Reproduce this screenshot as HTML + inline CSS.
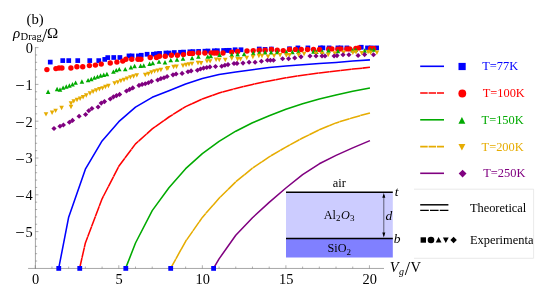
<!DOCTYPE html><html><head><meta charset="utf-8"><title>fig b</title><style>html,body{margin:0;padding:0;background:#fff}svg{display:block;will-change:transform;opacity:0.999}text{font-family:"Liberation Serif",serif;fill:#000}</style></head><body>
<svg width="545" height="296" viewBox="0 0 545 296">
<rect width="545" height="296" fill="#fff"/>
<path d="M35.42 47.3V268.7M28.1 268.45H384" stroke="#6e6e6e" stroke-width="0.62" fill="none"/>
<path d="M35.25 47.60h3.2M35.25 54.96h1.9M35.25 62.32h1.9M35.25 69.68h1.9M35.25 77.04h1.9M35.25 84.40h3.2M35.25 91.76h1.9M35.25 99.12h1.9M35.25 106.48h1.9M35.25 113.84h1.9M35.25 121.20h3.2M35.25 128.56h1.9M35.25 135.92h1.9M35.25 143.28h1.9M35.25 150.64h1.9M35.25 158.00h3.2M35.25 165.36h1.9M35.25 172.72h1.9M35.25 180.08h1.9M35.25 187.44h1.9M35.25 194.80h3.2M35.25 202.16h1.9M35.25 209.52h1.9M35.25 216.88h1.9M35.25 224.24h1.9M35.25 231.60h3.2M35.25 238.96h1.9M35.25 246.32h1.9M35.25 253.68h1.9M35.25 261.04h1.9M35.25 268.45v-3.2M51.96 268.45v-1.9M68.67 268.45v-1.9M85.38 268.45v-1.9M102.09 268.45v-1.9M118.80 268.45v-3.2M135.51 268.45v-1.9M152.22 268.45v-1.9M168.93 268.45v-1.9M185.64 268.45v-1.9M202.35 268.45v-3.2M219.06 268.45v-1.9M235.77 268.45v-1.9M252.48 268.45v-1.9M269.19 268.45v-1.9M285.90 268.45v-3.2M302.61 268.45v-1.9M319.32 268.45v-1.9M336.03 268.45v-1.9M352.74 268.45v-1.9M369.45 268.45v-3.2" stroke="#6e6e6e" stroke-width="0.55" fill="none"/>
<text x="35.55" y="283.8" font-size="14.4" text-anchor="middle">0</text>
<text x="119.10" y="283.8" font-size="14.4" text-anchor="middle">5</text>
<text x="202.65" y="283.8" font-size="14.4" text-anchor="middle">10</text>
<text x="286.20" y="283.8" font-size="14.4" text-anchor="middle">15</text>
<text x="369.75" y="283.8" font-size="14.4" text-anchor="middle">20</text>
<text x="33" y="52.90" font-size="14.4" text-anchor="end">0</text>
<text x="32.7" y="89.70" font-size="14.4" text-anchor="end">1</text>
<text x="24.6" y="91.25" font-size="16.6" text-anchor="end">−</text>
<text x="32.7" y="126.50" font-size="14.4" text-anchor="end">2</text>
<text x="24.6" y="128.05" font-size="16.6" text-anchor="end">−</text>
<text x="32.7" y="163.30" font-size="14.4" text-anchor="end">3</text>
<text x="24.6" y="164.85" font-size="16.6" text-anchor="end">−</text>
<text x="32.7" y="200.10" font-size="14.4" text-anchor="end">4</text>
<text x="24.6" y="201.65" font-size="16.6" text-anchor="end">−</text>
<text x="32.7" y="236.90" font-size="14.4" text-anchor="end">5</text>
<text x="24.6" y="238.45" font-size="16.6" text-anchor="end">−</text>
<path d="M58.70 268.40L68.67 217.20L85.38 169.20L102.09 140.90L118.80 121.70L135.51 107.20L152.22 97.30L168.93 90.70L185.64 84.00L202.35 78.60L219.06 74.60L235.77 72.10L252.48 69.80L269.19 67.50L285.90 65.90L302.61 64.70L319.32 63.60L336.03 62.40L352.74 61.10L369.95 59.86" stroke="#0000ff" stroke-width="1.55" fill="none" stroke-linejoin="round" stroke-linecap="butt"/>
<path d="M79.60 268.40L85.38 242.90L102.09 198.80L118.80 166.30L135.51 143.90L152.22 128.90L168.93 117.00L185.64 106.60L202.35 99.00L219.06 93.00L235.77 88.40L252.48 84.40L269.19 80.90L285.90 77.80L302.61 75.20L319.32 73.00L336.03 70.90L352.74 69.10L369.95 67.35" stroke="#ff0000" stroke-width="1.55" fill="none" stroke-linejoin="round" stroke-linecap="butt" stroke-dasharray="10.7 0.22"/>
<path d="M125.60 268.40L135.51 243.00L152.22 210.60L168.93 187.70L185.64 168.70L202.35 153.60L219.06 141.30L235.77 131.20L252.48 122.80L269.19 115.80L285.90 109.30L302.61 103.80L319.32 99.10L336.03 94.90L352.74 91.20L369.95 88.11" stroke="#00aa00" stroke-width="1.55" fill="none" stroke-linejoin="round" stroke-linecap="butt"/>
<path d="M170.60 268.40L185.64 241.30L202.35 217.40L219.06 198.30L235.77 181.80L252.48 168.20L269.19 156.80L285.90 147.10L302.61 138.00L319.32 129.80L336.03 122.90L352.74 117.70L369.95 112.96" stroke="#e6ac00" stroke-width="1.55" fill="none" stroke-linejoin="round" stroke-linecap="butt" stroke-dasharray="10.7 0.22"/>
<path d="M213.50 268.40L219.06 258.90L235.77 235.20L252.48 217.70L269.19 202.40L285.90 188.00L302.61 174.70L319.32 163.80L336.03 155.40L352.74 147.90L369.95 140.59" stroke="#800080" stroke-width="1.55" fill="none" stroke-linejoin="round" stroke-linecap="butt"/>
<g><rect x="47.90" y="59.75" width="4.7" height="4.7" fill="#0000ff"/><rect x="60.40" y="58.25" width="4.7" height="4.7" fill="#0000ff"/><rect x="66.40" y="58.25" width="4.7" height="4.7" fill="#0000ff"/><rect x="75.40" y="58.25" width="4.7" height="4.7" fill="#0000ff"/><rect x="87.40" y="58.25" width="4.7" height="4.7" fill="#0000ff"/><rect x="96.40" y="58.25" width="4.7" height="4.7" fill="#0000ff"/><rect x="102.40" y="57.05" width="4.7" height="4.7" fill="#0000ff"/><rect x="105.40" y="55.25" width="4.7" height="4.7" fill="#0000ff"/><rect x="111.40" y="55.15" width="4.7" height="4.7" fill="#0000ff"/><rect x="117.55" y="55.15" width="4.7" height="4.7" fill="#0000ff"/><rect x="126.65" y="53.55" width="4.7" height="4.7" fill="#0000ff"/><rect x="129.75" y="53.55" width="4.7" height="4.7" fill="#0000ff"/><rect x="136.05" y="53.55" width="4.7" height="4.7" fill="#0000ff"/><rect x="138.90" y="52.90" width="4.7" height="4.7" fill="#0000ff"/><rect x="144.75" y="51.90" width="4.7" height="4.7" fill="#0000ff"/><rect x="151.05" y="51.90" width="4.7" height="4.7" fill="#0000ff"/><rect x="154.15" y="51.40" width="4.7" height="4.7" fill="#0000ff"/><rect x="157.25" y="51.05" width="4.7" height="4.7" fill="#0000ff"/><rect x="163.55" y="50.65" width="4.7" height="4.7" fill="#0000ff"/><rect x="166.65" y="50.65" width="4.7" height="4.7" fill="#0000ff"/><rect x="171.95" y="50.15" width="4.7" height="4.7" fill="#0000ff"/><rect x="178.15" y="49.95" width="4.7" height="4.7" fill="#0000ff"/><rect x="181.25" y="49.75" width="4.7" height="4.7" fill="#0000ff"/><rect x="187.55" y="49.45" width="4.7" height="4.7" fill="#0000ff"/><rect x="190.65" y="49.25" width="4.7" height="4.7" fill="#0000ff"/><rect x="196.25" y="49.05" width="4.7" height="4.7" fill="#0000ff"/><rect x="202.55" y="48.85" width="4.7" height="4.7" fill="#0000ff"/><rect x="205.65" y="48.65" width="4.7" height="4.7" fill="#0000ff"/><rect x="211.90" y="48.45" width="4.7" height="4.7" fill="#0000ff"/><rect x="215.05" y="48.35" width="4.7" height="4.7" fill="#0000ff"/><rect x="221.25" y="48.15" width="4.7" height="4.7" fill="#0000ff"/><rect x="224.40" y="48.05" width="4.7" height="4.7" fill="#0000ff"/><rect x="226.90" y="47.95" width="4.7" height="4.7" fill="#0000ff"/><rect x="232.75" y="47.40" width="4.7" height="4.7" fill="#0000ff"/><rect x="238.65" y="47.40" width="4.7" height="4.7" fill="#0000ff"/><rect x="256.90" y="46.65" width="4.7" height="4.7" fill="#0000ff"/><rect x="262.75" y="47.05" width="4.7" height="4.7" fill="#0000ff"/><rect x="269.05" y="46.65" width="4.7" height="4.7" fill="#0000ff"/><rect x="287.15" y="46.40" width="4.7" height="4.7" fill="#0000ff"/><rect x="295.55" y="45.55" width="4.7" height="4.7" fill="#0000ff"/><rect x="305.55" y="45.55" width="4.7" height="4.7" fill="#0000ff"/><rect x="318.05" y="45.55" width="4.7" height="4.7" fill="#0000ff"/><rect x="320.55" y="45.55" width="4.7" height="4.7" fill="#0000ff"/><rect x="326.75" y="45.55" width="4.7" height="4.7" fill="#0000ff"/><rect x="335.55" y="45.55" width="4.7" height="4.7" fill="#0000ff"/><rect x="338.65" y="45.55" width="4.7" height="4.7" fill="#0000ff"/><rect x="344.55" y="45.55" width="4.7" height="4.7" fill="#0000ff"/><rect x="358.90" y="44.90" width="4.7" height="4.7" fill="#0000ff"/><rect x="365.15" y="45.55" width="4.7" height="4.7" fill="#0000ff"/><rect x="368.90" y="45.55" width="4.7" height="4.7" fill="#0000ff"/><rect x="374.25" y="45.55" width="4.7" height="4.7" fill="#0000ff"/></g>
<g><circle cx="46.90" cy="69.60" r="2.7" fill="#ff0000"/><circle cx="55.90" cy="68.60" r="2.7" fill="#ff0000"/><circle cx="59.00" cy="68.00" r="2.7" fill="#ff0000"/><circle cx="61.90" cy="68.00" r="2.7" fill="#ff0000"/><circle cx="70.90" cy="68.00" r="2.7" fill="#ff0000"/><circle cx="76.90" cy="66.75" r="2.7" fill="#ff0000"/><circle cx="82.75" cy="66.75" r="2.7" fill="#ff0000"/><circle cx="89.40" cy="65.60" r="2.7" fill="#ff0000"/><circle cx="95.40" cy="65.10" r="2.7" fill="#ff0000"/><circle cx="101.25" cy="64.10" r="2.7" fill="#ff0000"/><circle cx="110.25" cy="63.00" r="2.7" fill="#ff0000"/><circle cx="116.90" cy="62.10" r="2.7" fill="#ff0000"/><circle cx="122.75" cy="61.10" r="2.7" fill="#ff0000"/><circle cx="125.90" cy="59.25" r="2.7" fill="#ff0000"/><circle cx="131.75" cy="59.25" r="2.7" fill="#ff0000"/><circle cx="138.00" cy="59.25" r="2.7" fill="#ff0000"/><circle cx="140.90" cy="59.25" r="2.7" fill="#ff0000"/><circle cx="150.25" cy="57.50" r="2.7" fill="#ff0000"/><circle cx="156.50" cy="57.50" r="2.7" fill="#ff0000"/><circle cx="159.40" cy="56.25" r="2.7" fill="#ff0000"/><circle cx="165.25" cy="56.25" r="2.7" fill="#ff0000"/><circle cx="171.40" cy="55.25" r="2.7" fill="#ff0000"/><circle cx="177.40" cy="55.25" r="2.7" fill="#ff0000"/><circle cx="183.40" cy="54.60" r="2.7" fill="#ff0000"/><circle cx="189.50" cy="53.40" r="2.7" fill="#ff0000"/><circle cx="192.60" cy="53.40" r="2.7" fill="#ff0000"/><circle cx="198.60" cy="53.00" r="2.7" fill="#ff0000"/><circle cx="204.90" cy="53.00" r="2.7" fill="#ff0000"/><circle cx="211.10" cy="53.00" r="2.7" fill="#ff0000"/><circle cx="214.25" cy="53.00" r="2.7" fill="#ff0000"/><circle cx="217.10" cy="53.00" r="2.7" fill="#ff0000"/><circle cx="223.00" cy="53.00" r="2.7" fill="#ff0000"/><circle cx="231.75" cy="52.10" r="2.7" fill="#ff0000"/><circle cx="237.60" cy="51.50" r="2.7" fill="#ff0000"/><circle cx="247.00" cy="51.00" r="2.7" fill="#ff0000"/><circle cx="253.25" cy="50.60" r="2.7" fill="#ff0000"/><circle cx="259.25" cy="50.25" r="2.7" fill="#ff0000"/><circle cx="265.10" cy="50.25" r="2.7" fill="#ff0000"/><circle cx="271.40" cy="49.40" r="2.7" fill="#ff0000"/><circle cx="277.25" cy="50.25" r="2.7" fill="#ff0000"/><circle cx="283.25" cy="50.60" r="2.7" fill="#ff0000"/><circle cx="289.50" cy="49.40" r="2.7" fill="#ff0000"/><circle cx="295.50" cy="49.40" r="2.7" fill="#ff0000"/><circle cx="301.25" cy="49.50" r="2.7" fill="#ff0000"/><circle cx="307.50" cy="49.50" r="2.7" fill="#ff0000"/><circle cx="313.50" cy="49.50" r="2.7" fill="#ff0000"/><circle cx="319.50" cy="49.50" r="2.7" fill="#ff0000"/><circle cx="328.75" cy="48.90" r="2.7" fill="#ff0000"/><circle cx="331.90" cy="48.90" r="2.7" fill="#ff0000"/><circle cx="337.90" cy="49.10" r="2.7" fill="#ff0000"/><circle cx="340.75" cy="48.90" r="2.7" fill="#ff0000"/><circle cx="346.90" cy="48.90" r="2.7" fill="#ff0000"/><circle cx="349.75" cy="48.90" r="2.7" fill="#ff0000"/><circle cx="355.90" cy="48.50" r="2.7" fill="#ff0000"/><circle cx="358.75" cy="47.90" r="2.7" fill="#ff0000"/><circle cx="370.60" cy="48.50" r="2.7" fill="#ff0000"/><circle cx="373.75" cy="48.50" r="2.7" fill="#ff0000"/></g>
<g><path d="M45.80 94.01L50.40 94.01L48.10 89.61Z" fill="#00aa00"/><path d="M54.80 91.16L59.40 91.16L57.10 86.76Z" fill="#00aa00"/><path d="M57.70 91.76L62.30 91.76L60.00 87.36Z" fill="#00aa00"/><path d="M60.80 89.86L65.40 89.86L63.10 85.46Z" fill="#00aa00"/><path d="M63.95 88.66L68.55 88.66L66.25 84.26Z" fill="#00aa00"/><path d="M67.10 87.76L71.70 87.76L69.40 83.36Z" fill="#00aa00"/><path d="M70.20 86.51L74.80 86.51L72.50 82.11Z" fill="#00aa00"/><path d="M73.30 84.86L77.90 84.86L75.60 80.46Z" fill="#00aa00"/><path d="M79.60 83.66L84.20 83.66L81.90 79.26Z" fill="#00aa00"/><path d="M85.80 82.36L90.40 82.36L88.10 77.96Z" fill="#00aa00"/><path d="M88.95 81.16L93.55 81.16L91.25 76.76Z" fill="#00aa00"/><path d="M92.10 79.86L96.70 79.86L94.40 75.46Z" fill="#00aa00"/><path d="M95.20 78.86L99.80 78.86L97.50 74.46Z" fill="#00aa00"/><path d="M98.30 77.66L102.90 77.66L100.60 73.26Z" fill="#00aa00"/><path d="M101.45 77.01L106.05 77.01L103.75 72.61Z" fill="#00aa00"/><path d="M104.60 76.16L109.20 76.16L106.90 71.76Z" fill="#00aa00"/><path d="M111.10 73.86L115.70 73.86L113.40 69.46Z" fill="#00aa00"/><path d="M113.95 72.36L118.55 72.36L116.25 67.96Z" fill="#00aa00"/><path d="M116.95 71.36L121.55 71.36L119.25 66.96Z" fill="#00aa00"/><path d="M122.95 71.36L127.55 71.36L125.25 66.96Z" fill="#00aa00"/><path d="M128.60 69.51L133.20 69.51L130.90 65.11Z" fill="#00aa00"/><path d="M132.30 68.26L136.90 68.26L134.60 63.86Z" fill="#00aa00"/><path d="M138.30 68.01L142.90 68.01L140.60 63.61Z" fill="#00aa00"/><path d="M141.45 67.66L146.05 67.66L143.75 63.26Z" fill="#00aa00"/><path d="M147.30 66.01L151.90 66.01L149.60 61.61Z" fill="#00aa00"/><path d="M150.45 65.16L155.05 65.16L152.75 60.76Z" fill="#00aa00"/><path d="M156.70 63.86L161.30 63.86L159.00 59.46Z" fill="#00aa00"/><path d="M162.70 64.51L167.30 64.51L165.00 60.11Z" fill="#00aa00"/><path d="M168.45 62.36L173.05 62.36L170.75 57.96Z" fill="#00aa00"/><path d="M174.70 61.76L179.30 61.76L177.00 57.36Z" fill="#00aa00"/><path d="M180.70 60.76L185.30 60.76L183.00 56.36Z" fill="#00aa00"/><path d="M189.80 60.16L194.40 60.16L192.10 55.76Z" fill="#00aa00"/><path d="M196.10 58.86L200.70 58.86L198.40 54.46Z" fill="#00aa00"/><path d="M205.45 58.86L210.05 58.86L207.75 54.46Z" fill="#00aa00"/><path d="M208.45 58.26L213.05 58.26L210.75 53.86Z" fill="#00aa00"/><path d="M217.30 57.01L221.90 57.01L219.60 52.61Z" fill="#00aa00"/><path d="M229.45 57.01L234.05 57.01L231.75 52.61Z" fill="#00aa00"/><path d="M235.30 56.51L239.90 56.51L237.60 52.11Z" fill="#00aa00"/><path d="M241.80 56.16L246.40 56.16L244.10 51.76Z" fill="#00aa00"/><path d="M250.95 55.26L255.55 55.26L253.25 50.86Z" fill="#00aa00"/><path d="M256.95 54.86L261.55 54.86L259.25 50.46Z" fill="#00aa00"/><path d="M262.80 54.51L267.40 54.51L265.10 50.11Z" fill="#00aa00"/><path d="M268.80 54.51L273.40 54.51L271.10 50.11Z" fill="#00aa00"/><path d="M274.95 54.26L279.55 54.26L277.25 49.86Z" fill="#00aa00"/><path d="M284.10 54.26L288.70 54.26L286.40 49.86Z" fill="#00aa00"/><path d="M290.10 54.26L294.70 54.26L292.40 49.86Z" fill="#00aa00"/><path d="M296.10 53.76L300.70 53.76L298.40 49.36Z" fill="#00aa00"/><path d="M311.20 53.76L315.80 53.76L313.50 49.36Z" fill="#00aa00"/><path d="M314.10 54.01L318.70 54.01L316.40 49.61Z" fill="#00aa00"/><path d="M319.95 53.76L324.55 53.76L322.25 49.36Z" fill="#00aa00"/><path d="M326.20 52.76L330.80 52.76L328.50 48.36Z" fill="#00aa00"/><path d="M335.60 53.16L340.20 53.16L337.90 48.76Z" fill="#00aa00"/><path d="M350.40 52.51L355.00 52.51L352.70 48.11Z" fill="#00aa00"/><path d="M353.50 51.96L358.10 51.96L355.80 47.56Z" fill="#00aa00"/><path d="M362.30 52.76L366.90 52.76L364.60 48.36Z" fill="#00aa00"/><path d="M368.30 52.16L372.90 52.16L370.60 47.76Z" fill="#00aa00"/><path d="M371.45 51.76L376.05 51.76L373.75 47.36Z" fill="#00aa00"/></g>
<g><path d="M43.70 112.14L48.30 112.14L46.00 116.54Z" fill="#e6ac00"/><path d="M49.80 110.49L54.40 110.49L52.10 114.89Z" fill="#e6ac00"/><path d="M53.30 108.64L57.90 108.64L55.60 113.04Z" fill="#e6ac00"/><path d="M59.30 105.84L63.90 105.84L61.60 110.24Z" fill="#e6ac00"/><path d="M68.70 104.84L73.30 104.84L71.00 109.24Z" fill="#e6ac00"/><path d="M68.70 101.24L73.30 101.24L71.00 105.64Z" fill="#e6ac00"/><path d="M71.45 99.14L76.05 99.14L73.75 103.54Z" fill="#e6ac00"/><path d="M74.70 97.84L79.30 97.84L77.00 102.24Z" fill="#e6ac00"/><path d="M77.80 96.54L82.40 96.54L80.10 100.94Z" fill="#e6ac00"/><path d="M80.80 95.04L85.40 95.04L83.10 99.44Z" fill="#e6ac00"/><path d="M83.95 93.24L88.55 93.24L86.25 97.64Z" fill="#e6ac00"/><path d="M87.70 91.34L92.30 91.34L90.00 95.74Z" fill="#e6ac00"/><path d="M90.80 89.49L95.40 89.49L93.10 93.89Z" fill="#e6ac00"/><path d="M93.95 88.24L98.55 88.24L96.25 92.64Z" fill="#e6ac00"/><path d="M97.10 86.99L101.70 86.99L99.40 91.39Z" fill="#e6ac00"/><path d="M100.20 86.14L104.80 86.14L102.50 90.54Z" fill="#e6ac00"/><path d="M103.10 84.84L107.70 84.84L105.40 89.24Z" fill="#e6ac00"/><path d="M106.10 83.84L110.70 83.84L108.40 88.24Z" fill="#e6ac00"/><path d="M112.30 81.14L116.90 81.14L114.60 85.54Z" fill="#e6ac00"/><path d="M115.45 80.14L120.05 80.14L117.75 84.54Z" fill="#e6ac00"/><path d="M118.60 78.84L123.20 78.84L120.90 83.24Z" fill="#e6ac00"/><path d="M121.70 77.84L126.30 77.84L124.00 82.24Z" fill="#e6ac00"/><path d="M124.80 76.44L129.40 76.44L127.10 80.84Z" fill="#e6ac00"/><path d="M128.10 75.14L132.70 75.14L130.40 79.54Z" fill="#e6ac00"/><path d="M131.30 74.24L135.90 74.24L133.60 78.64Z" fill="#e6ac00"/><path d="M134.50 73.14L139.10 73.14L136.80 77.54Z" fill="#e6ac00"/><path d="M142.95 72.84L147.55 72.84L145.25 77.24Z" fill="#e6ac00"/><path d="M146.10 71.74L150.70 71.74L148.40 76.14Z" fill="#e6ac00"/><path d="M149.20 70.34L153.80 70.34L151.50 74.74Z" fill="#e6ac00"/><path d="M152.30 69.14L156.90 69.14L154.60 73.54Z" fill="#e6ac00"/><path d="M155.45 68.49L160.05 68.49L157.75 72.89Z" fill="#e6ac00"/><path d="M158.60 67.84L163.20 67.84L160.90 72.24Z" fill="#e6ac00"/><path d="M164.60 66.64L169.20 66.64L166.90 71.04Z" fill="#e6ac00"/><path d="M165.70 65.99L170.30 65.99L168.00 70.39Z" fill="#e6ac00"/><path d="M171.30 64.74L175.90 64.74L173.60 69.14Z" fill="#e6ac00"/><path d="M174.20 64.49L178.80 64.49L176.50 68.89Z" fill="#e6ac00"/><path d="M180.70 63.49L185.30 63.49L183.00 67.89Z" fill="#e6ac00"/><path d="M183.80 62.84L188.40 62.84L186.10 67.24Z" fill="#e6ac00"/><path d="M186.70 62.24L191.30 62.24L189.00 66.64Z" fill="#e6ac00"/><path d="M189.70 61.64L194.30 61.64L192.00 66.04Z" fill="#e6ac00"/><path d="M195.70 60.74L200.30 60.74L198.00 65.14Z" fill="#e6ac00"/><path d="M198.80 60.99L203.40 60.99L201.10 65.39Z" fill="#e6ac00"/><path d="M204.70 59.14L209.30 59.14L207.00 63.54Z" fill="#e6ac00"/><path d="M207.80 59.14L212.40 59.14L210.10 63.54Z" fill="#e6ac00"/><path d="M213.80 57.49L218.40 57.49L216.10 61.89Z" fill="#e6ac00"/><path d="M216.95 57.84L221.55 57.84L219.25 62.24Z" fill="#e6ac00"/><path d="M222.95 57.84L227.55 57.84L225.25 62.24Z" fill="#e6ac00"/><path d="M229.45 56.24L234.05 56.24L231.75 60.64Z" fill="#e6ac00"/><path d="M235.30 56.99L239.90 56.99L237.60 61.39Z" fill="#e6ac00"/><path d="M238.20 56.99L242.80 56.99L240.50 61.39Z" fill="#e6ac00"/><path d="M244.45 55.74L249.05 55.74L246.75 60.14Z" fill="#e6ac00"/><path d="M250.60 54.84L255.20 54.84L252.90 59.24Z" fill="#e6ac00"/><path d="M256.60 53.84L261.20 53.84L258.90 58.24Z" fill="#e6ac00"/><path d="M259.70 53.84L264.30 53.84L262.00 58.24Z" fill="#e6ac00"/><path d="M265.70 54.49L270.30 54.49L268.00 58.89Z" fill="#e6ac00"/><path d="M271.80 53.64L276.40 53.64L274.10 58.04Z" fill="#e6ac00"/><path d="M277.80 52.99L282.40 52.99L280.10 57.39Z" fill="#e6ac00"/><path d="M284.10 53.24L288.70 53.24L286.40 57.64Z" fill="#e6ac00"/><path d="M287.20 52.99L291.80 52.99L289.50 57.39Z" fill="#e6ac00"/><path d="M296.30 52.84L300.90 52.84L298.60 57.24Z" fill="#e6ac00"/><path d="M301.80 51.74L306.40 51.74L304.10 56.14Z" fill="#e6ac00"/><path d="M313.70 51.74L318.30 51.74L316.00 56.14Z" fill="#e6ac00"/><path d="M319.95 51.74L324.55 51.74L322.25 56.14Z" fill="#e6ac00"/><path d="M325.95 52.64L330.55 52.64L328.25 57.04Z" fill="#e6ac00"/><path d="M332.45 51.14L337.05 51.14L334.75 55.54Z" fill="#e6ac00"/><path d="M341.30 50.49L345.90 50.49L343.60 54.89Z" fill="#e6ac00"/><path d="M350.60 50.49L355.20 50.49L352.90 54.89Z" fill="#e6ac00"/><path d="M353.70 50.14L358.30 50.14L356.00 54.54Z" fill="#e6ac00"/><path d="M359.40 50.94L364.00 50.94L361.70 55.34Z" fill="#e6ac00"/><path d="M365.80 49.84L370.40 49.84L368.10 54.24Z" fill="#e6ac00"/><path d="M368.30 50.49L372.90 50.49L370.60 54.89Z" fill="#e6ac00"/><path d="M374.60 50.49L379.20 50.49L376.90 54.89Z" fill="#e6ac00"/></g>
<g><path d="M51.40 128.50L54.00 125.90L56.60 128.50L54.00 131.10Z" fill="#800080"/><path d="M57.40 126.25L60.00 123.65L62.60 126.25L60.00 128.85Z" fill="#800080"/><path d="M60.80 125.00L63.40 122.40L66.00 125.00L63.40 127.60Z" fill="#800080"/><path d="M66.80 122.25L69.40 119.65L72.00 122.25L69.40 124.85Z" fill="#800080"/><path d="M69.90 120.40L72.50 117.80L75.10 120.40L72.50 123.00Z" fill="#800080"/><path d="M76.50 116.25L79.10 113.65L81.70 116.25L79.10 118.85Z" fill="#800080"/><path d="M83.00 114.50L85.60 111.90L88.20 114.50L85.60 117.10Z" fill="#800080"/><path d="M86.15 110.75L88.75 108.15L91.35 110.75L88.75 113.35Z" fill="#800080"/><path d="M89.30 108.50L91.90 105.90L94.50 108.50L91.90 111.10Z" fill="#800080"/><path d="M95.50 107.00L98.10 104.40L100.70 107.00L98.10 109.60Z" fill="#800080"/><path d="M98.65 103.10L101.25 100.50L103.85 103.10L101.25 105.70Z" fill="#800080"/><path d="M101.90 101.60L104.50 99.00L107.10 101.60L104.50 104.20Z" fill="#800080"/><path d="M107.65 99.00L110.25 96.40L112.85 99.00L110.25 101.60Z" fill="#800080"/><path d="M110.80 96.90L113.40 94.30L116.00 96.90L113.40 99.50Z" fill="#800080"/><path d="M113.90 95.60L116.50 93.00L119.10 95.60L116.50 98.20Z" fill="#800080"/><path d="M117.00 94.40L119.60 91.80L122.20 94.40L119.60 97.00Z" fill="#800080"/><path d="M123.90 91.00L126.50 88.40L129.10 91.00L126.50 93.60Z" fill="#800080"/><path d="M127.00 89.40L129.60 86.80L132.20 89.40L129.60 92.00Z" fill="#800080"/><path d="M130.15 87.90L132.75 85.30L135.35 87.90L132.75 90.50Z" fill="#800080"/><path d="M136.40 85.40L139.00 82.80L141.60 85.40L139.00 88.00Z" fill="#800080"/><path d="M139.50 84.40L142.10 81.80L144.70 84.40L142.10 87.00Z" fill="#800080"/><path d="M142.65 83.75L145.25 81.15L147.85 83.75L145.25 86.35Z" fill="#800080"/><path d="M145.80 82.75L148.40 80.15L151.00 82.75L148.40 85.35Z" fill="#800080"/><path d="M148.90 81.30L151.50 78.70L154.10 81.30L151.50 83.90Z" fill="#800080"/><path d="M155.15 80.00L157.75 77.40L160.35 80.00L157.75 82.60Z" fill="#800080"/><path d="M158.30 78.60L160.90 76.00L163.50 78.60L160.90 81.20Z" fill="#800080"/><path d="M161.40 77.75L164.00 75.15L166.60 77.75L164.00 80.35Z" fill="#800080"/><path d="M164.50 76.50L167.10 73.90L169.70 76.50L167.10 79.10Z" fill="#800080"/><path d="M170.40 74.80L173.00 72.20L175.60 74.80L173.00 77.40Z" fill="#800080"/><path d="M173.50 74.00L176.10 71.40L178.70 74.00L176.10 76.60Z" fill="#800080"/><path d="M179.50 73.40L182.10 70.80L184.70 73.40L182.10 76.00Z" fill="#800080"/><path d="M185.40 71.75L188.00 69.15L190.60 71.75L188.00 74.35Z" fill="#800080"/><path d="M188.50 70.90L191.10 68.30L193.70 70.90L191.10 73.50Z" fill="#800080"/><path d="M194.80 70.25L197.40 67.65L200.00 70.25L197.40 72.85Z" fill="#800080"/><path d="M197.90 69.00L200.50 66.40L203.10 69.00L200.50 71.60Z" fill="#800080"/><path d="M201.00 68.10L203.60 65.50L206.20 68.10L203.60 70.70Z" fill="#800080"/><path d="M204.15 67.50L206.75 64.90L209.35 67.50L206.75 70.10Z" fill="#800080"/><path d="M207.30 66.90L209.90 64.30L212.50 66.90L209.90 69.50Z" fill="#800080"/><path d="M212.90 66.50L215.50 63.90L218.10 66.50L215.50 69.10Z" fill="#800080"/><path d="M219.15 66.25L221.75 63.65L224.35 66.25L221.75 68.85Z" fill="#800080"/><path d="M222.30 65.25L224.90 62.65L227.50 65.25L224.90 67.85Z" fill="#800080"/><path d="M225.40 64.60L228.00 62.00L230.60 64.60L228.00 67.20Z" fill="#800080"/><path d="M231.40 63.50L234.00 60.90L236.60 63.50L234.00 66.10Z" fill="#800080"/><path d="M234.40 63.40L237.00 60.80L239.60 63.40L237.00 66.00Z" fill="#800080"/><path d="M240.40 63.10L243.00 60.50L245.60 63.10L243.00 65.70Z" fill="#800080"/><path d="M246.50 62.25L249.10 59.65L251.70 62.25L249.10 64.85Z" fill="#800080"/><path d="M252.50 62.25L255.10 59.65L257.70 62.25L255.10 64.85Z" fill="#800080"/><path d="M258.80 61.25L261.40 58.65L264.00 61.25L261.40 63.85Z" fill="#800080"/><path d="M264.80 60.25L267.40 57.65L270.00 60.25L267.40 62.85Z" fill="#800080"/><path d="M267.80 60.25L270.40 57.65L273.00 60.25L270.40 62.85Z" fill="#800080"/><path d="M270.90 60.25L273.50 57.65L276.10 60.25L273.50 62.85Z" fill="#800080"/><path d="M280.00 58.75L282.60 56.15L285.20 58.75L282.60 61.35Z" fill="#800080"/><path d="M286.00 58.75L288.60 56.15L291.20 58.75L288.60 61.35Z" fill="#800080"/><path d="M292.15 57.90L294.75 55.30L297.35 57.90L294.75 60.50Z" fill="#800080"/><path d="M298.40 56.80L301.00 54.20L303.60 56.80L301.00 59.40Z" fill="#800080"/><path d="M307.40 56.00L310.00 53.40L312.60 56.00L310.00 58.60Z" fill="#800080"/><path d="M313.40 56.00L316.00 53.40L318.60 56.00L316.00 58.60Z" fill="#800080"/><path d="M319.40 56.00L322.00 53.40L324.60 56.00L322.00 58.60Z" fill="#800080"/><path d="M322.40 56.00L325.00 53.40L327.60 56.00L325.00 58.60Z" fill="#800080"/><path d="M331.50 56.00L334.10 53.40L336.70 56.00L334.10 58.60Z" fill="#800080"/><path d="M334.40 55.60L337.00 53.00L339.60 55.60L337.00 58.20Z" fill="#800080"/><path d="M340.40 54.75L343.00 52.15L345.60 54.75L343.00 57.35Z" fill="#800080"/><path d="M346.30 54.75L348.90 52.15L351.50 54.75L348.90 57.35Z" fill="#800080"/><path d="M355.50 55.50L358.10 52.90L360.70 55.50L358.10 58.10Z" fill="#800080"/><path d="M362.00 54.60L364.60 52.00L367.20 54.60L364.60 57.20Z" fill="#800080"/><path d="M370.90 54.75L373.50 52.15L376.10 54.75L373.50 57.35Z" fill="#800080"/></g>
<rect x="56.35" y="266.00" width="4.8" height="4.8" fill="#0000ff"/>
<rect x="77.35" y="266.00" width="4.8" height="4.8" fill="#0000ff"/>
<rect x="123.40" y="266.00" width="4.8" height="4.8" fill="#0000ff"/>
<rect x="168.30" y="266.00" width="4.8" height="4.8" fill="#0000ff"/>
<rect x="211.20" y="266.00" width="4.8" height="4.8" fill="#0000ff"/>
<text x="26.6" y="23.8" font-size="14.7">(b)</text>
<text x="12.9" y="38" font-size="15" font-style="italic">ρ</text>
<text x="20.6" y="39.8" font-size="10.6">Drag</text>
<text transform="translate(41.9 42) scale(1.28 1.22)" font-size="15">/</text>
<text x="47.1" y="38" font-size="15">Ω</text>
<text x="389.8" y="272.3" font-size="14.5" font-style="italic">V</text>
<text x="399" y="274.5" font-size="10" font-style="italic">g</text>
<text transform="translate(404.8 275) scale(1.28 1.22)" font-size="15">/</text>
<text x="410.6" y="272.3" font-size="14.5">V</text>
<rect x="286" y="192.3" width="106.8" height="45.8" fill="#ccccff"/>
<rect x="286" y="238.1" width="106.8" height="19.4" fill="#8080ff"/>
<path d="M286 192.3H392.8M286 238.5H392.8" stroke="#000" stroke-width="1.5"/>
<path d="M383.8 195V235.5" stroke="#000" stroke-width="0.55"/>
<path d="M383.8 193l-1.5 4.8h3zM383.8 237.4l-1.5 -4.8h3z" fill="#000"/>
<text x="339.4" y="186.8" font-size="12.4" text-anchor="middle">air</text>
<text x="323.8" y="219.1" font-size="12.2">Al<tspan font-size="9" dy="2.2">2</tspan><tspan dy="-2.2" font-style="italic" dx="0.6">O</tspan><tspan font-size="9" dy="2.2">3</tspan></text>
<text x="327.6" y="252.4" font-size="12.2">SiO<tspan font-size="9" dy="2.2">2</tspan></text>
<text x="385.6" y="219.7" font-size="13.5" font-style="italic">d</text>
<text x="394.8" y="196.1" font-size="13.5" font-style="italic">t</text>
<text x="393.7" y="243.1" font-size="13.5" font-style="italic">b</text>
<path d="M420.2 66.3H444" stroke="#0000ff" stroke-width="1.6"/>
<rect x="458.50" y="62.90" width="7.2" height="7.2" fill="#0000ff"/>
<text x="482.3" y="70.1" font-size="12.4" style="fill:#0000ff">T=77K</text>
<path d="M420.2 93.05H444" stroke="#ff0000" stroke-width="1.6" stroke-dasharray="7.5 0.9"/>
<circle cx="462.30" cy="93.50" r="3.9" fill="#ff0000"/>
<text x="482.7" y="96.9" font-size="12.4" style="fill:#ff0000">T=100K</text>
<path d="M420.2 119.8H444" stroke="#00aa00" stroke-width="1.6"/>
<path d="M458.45 123.8H465.35L461.9 117Z" fill="#00aa00"/>
<text x="481.6" y="123.6" font-size="12.4" style="fill:#00aa00">T=150K</text>
<path d="M420.2 146.6H444" stroke="#e6ac00" stroke-width="1.6" stroke-dasharray="7.5 0.9"/>
<path d="M458.45 143.9H465.35L461.9 150.6Z" fill="#e6ac00"/>
<text x="481.6" y="150.5" font-size="12.4" style="fill:#e6ac00">T=200K</text>
<path d="M420.2 173.3H444" stroke="#800080" stroke-width="1.6"/>
<path d="M458.70 173.60L462.60 169.70L466.50 173.60L462.60 177.50Z" fill="#800080"/>
<text x="483.3" y="177.2" font-size="12.4" style="fill:#800080">T=250K</text>
<svg x="413" y="188" width="122" height="72" viewBox="413 188 122 72" overflow="hidden">
<path d="M414 189.2H533.6V258.3H414" fill="none" stroke="#e3e3e3" stroke-width="0.8"/>
<path d="M420.2 204.8H448.4" stroke="#000" stroke-width="1.45"/>
<path d="M420.2 210.35H448.4" stroke="#000" stroke-width="1.45" stroke-dasharray="8.6 1.2"/>
<text x="469.9" y="212.3" font-size="12.4">Theoretical</text>
<rect x="420.60" y="237.30" width="5.4" height="5.4" fill="#000"/><circle cx="431.00" cy="240.00" r="3.3" fill="#000"/><path d="M435.70 242.54L441.50 242.54L438.60 236.94Z" fill="#000"/><path d="M442.90 237.46L448.70 237.46L445.80 243.06Z" fill="#000"/><path d="M450.40 240.00L453.60 236.80L456.80 240.00L453.60 243.20Z" fill="#000"/>
<clipPath id="c"><rect x="413" y="188" width="120.2" height="72"/></clipPath>
<text x="469.9" y="244" font-size="12.45" clip-path="url(#c)">Experimental</text>
</svg>
</svg></body></html>
